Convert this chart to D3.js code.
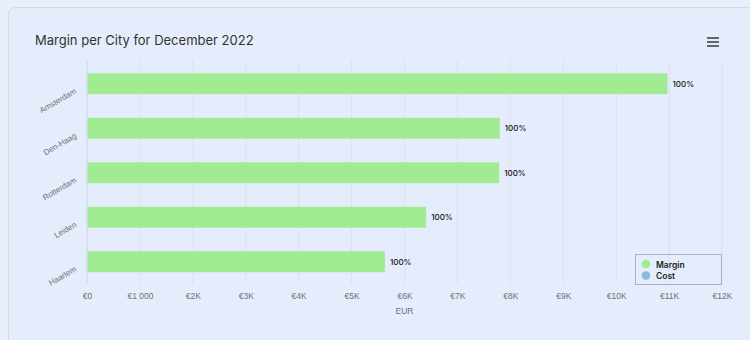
<!DOCTYPE html>
<html><head><meta charset="utf-8">
<script src="https://cdn.jsdelivr.net/npm/d3@7"></script>
<style>
html,body{margin:0;padding:0;background:#e9effa;}
svg{display:block;}
</style></head>
<body>
<svg id="chart" width="750" height="340"></svg>
<script>
const cities = ["Amsterdam","Den-Haag","Rotterdam","Leiden","Haarlem"];
const margin = [10970, 7800, 7790, 6410, 5630];
const marginLabels = ["100%","100%","100%","100%","100%"];
const xTicks = [0,1000,2000,3000,4000,5000,6000,7000,8000,9000,10000,11000,12000];
const xTickLabels = ["€0","€1 000","€2K","€3K","€4K","€5K","€6K","€7K","€8K","€9K","€10K","€11K","€12K"];
const legendNames = ["Margin","Cost"];
const legendColors = ["#a1ec93","#8cbad8"];

(function(){
const svg = d3.select("#chart");
// card
svg.append("rect").attr("x",8.5).attr("y",7.5).attr("width",750).attr("height",350)
  .attr("rx",7).attr("fill","#e5edfc").attr("stroke","#cfd9e8").attr("stroke-width",1);

svg.append("text").attr("x",35).attr("y",45).text("Margin per City for December 2022")
  .attr("font-family","Inter, 'Noto Sans', sans-serif").attr("font-size",13).attr("fill","#333");

// hamburger
[0,4,8].forEach((d)=>{
  svg.append("rect").attr("x",707).attr("y",37+d).attr("width",12).attr("height",2).attr("fill","#666");
});

const pL=87, pR=722, pT=60, pB=284;
const x = d3.scaleLinear().domain([0,12000]).range([pL,pR]);
const y = d3.scaleBand().domain(cities).range([pT+1.5,pB]).paddingInner(0.53).paddingOuter(0.265);

// grid
svg.append("g").selectAll("line").data(xTicks).join("line")
  .attr("x1",d=>x(d)).attr("x2",d=>x(d)).attr("y1",pT).attr("y2",pB)
  .attr("stroke",(d,i)=>i===0?"#ccd6eb":"#dbe1ec").attr("stroke-width",1);

// bars
svg.append("g").selectAll("rect").data(margin).join("rect")
  .attr("x",x(0)+0.5).attr("y",(d,i)=>y(cities[i]))
  .attr("width",d=>x(d)-x(0)-0.5).attr("height",y.bandwidth())
  .attr("fill",legendColors[0]);

// data labels
svg.append("g").selectAll("text").data(margin).join("text")
  .attr("x",d=>x(d)+5).attr("y",(d,i)=>y(cities[i])+y.bandwidth()/2+3)
  .text((d,i)=>marginLabels[i])
  .attr("font-family","Inter, 'Noto Sans', sans-serif").attr("font-size",8).attr("font-weight",500).attr("fill","#111");

// x axis
const xAxis = d3.axisBottom(x).tickValues(xTicks).tickFormat((d,i)=>xTickLabels[i]).tickSize(0).tickPadding(0);
const gx = svg.append("g").attr("transform",`translate(0,${pB})`).call(xAxis);
gx.select(".domain").remove();
gx.selectAll("text").attr("y",15).attr("dy",0).attr("font-family","'Liberation Sans', Arial, sans-serif").attr("font-size",8.5).attr("fill","#707070");

svg.append("text").attr("x",x(6000)).attr("y",314).attr("text-anchor","middle").text("EUR")
  .attr("font-family","'Liberation Sans', Arial, sans-serif").attr("font-size",8.5).attr("fill","#707070");

// y axis labels
const yAxis = d3.axisLeft(y).tickSize(0).tickPadding(0);
const gy = svg.append("g").attr("transform",`translate(${pL},0)`).call(yAxis);
gy.select(".domain").remove();
gy.selectAll("text")
  .attr("font-family","'Liberation Sans', Arial, sans-serif").attr("font-size",8).attr("fill","#707070")
  .attr("text-anchor","end").attr("x",0).attr("dy",0)
  .attr("transform","translate(-10,9) rotate(-30)");

// legend
const lg = svg.append("g");
lg.append("rect").attr("x",635.5).attr("y",254.5).attr("width",86).attr("height",30)
  .attr("fill","none").attr("stroke","#a9b2c2").attr("stroke-width",1);
legendNames.forEach((n,i)=>{
  lg.append("circle").attr("cx",646).attr("cy",264+i*11.5).attr("r",4.3).attr("fill",legendColors[i]);
  lg.append("text").attr("x",656).attr("y",267.5+i*11.5).text(n)
    .attr("font-family","Inter, 'Noto Sans', sans-serif").attr("font-size",8.5).attr("font-weight",600).attr("fill","#222");
});
})();
</script>
</body></html>
